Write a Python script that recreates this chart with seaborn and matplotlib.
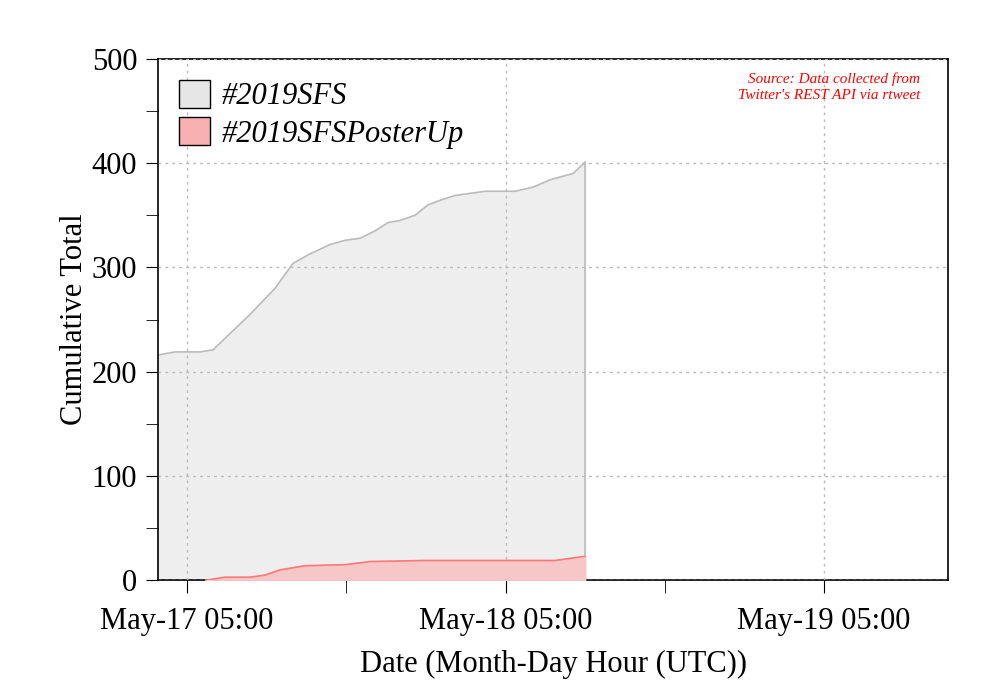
import numpy as np
import pandas as pd
import matplotlib.pyplot as plt
import seaborn as sns

# hours since May-17 05:00 UTC
sfs_hours = [-2.19, -0.9, 1.0, 1.96, 4.75, 6.63, 7.99, 9.27, 10.78, 11.91, 13.04, 14.17, 15.15, 16.05, 17.18, 18.16, 19.22, 20.2, 21.33, 22.46, 24.72, 26.08, 27.36, 28.49, 29.09, 30.0]
sfs_total = [216, 219, 219, 221, 255, 280, 304, 313, 322, 326, 328, 335, 343, 345, 350, 360, 365, 369, 371, 373, 373, 377, 384, 388, 390, 401]
poster_hours = [1.36, 2.86, 4.75, 5.88, 7.01, 8.9, 11.91, 13.79, 17.93, 20.2, 27.73, 28.86, 30.0]
poster_total = [0, 3, 3, 5, 10, 14, 15, 18, 19, 19, 19, 21, 23]

xtick_labels = ["May-17 05:00", "May-18 05:00", "May-19 05:00"]

sns.set_style("ticks")
plt.rcParams['font.family'] = ['Liberation Serif', 'DejaVu Serif']
plt.rcParams['text.color'] = 'black'
plt.rcParams['axes.labelcolor'] = 'black'
plt.rcParams['xtick.color'] = 'black'
plt.rcParams['ytick.color'] = 'black'

fig = plt.figure(figsize=(10, 7), dpi=100)
ax = fig.add_axes([0.158, 0.171, 0.79, 0.745])

sfs = pd.DataFrame({"h": sfs_hours, "n": sfs_total})
post = pd.DataFrame({"h": poster_hours, "n": poster_total})

ax.fill_between(sfs.h, sfs.n, color="#eeeeee", zorder=1)
sns.lineplot(data=sfs, x="h", y="n", ax=ax, color="#bbbbbb", lw=1.2, zorder=2)
ax.plot([sfs_hours[-1]] * 2, [0, sfs_total[-1]], color="#bbbbbb", lw=1.2, zorder=2)
ax.fill_between(post.h, post.n, color="#f7c6c6", zorder=3)
sns.lineplot(data=post, x="h", y="n", ax=ax, color="#ff7777", lw=1.2, zorder=4)

ax.set_xlim(-2.19, 57.34)
ax.set_ylim(0, 500)
ax.set_xticks([0, 24, 48])
ax.set_xticklabels(xtick_labels, fontsize=22)
ax.set_xticks([12, 36], minor=True)
ax.set_yticks(range(0, 501, 100))
ax.set_yticks(range(50, 500, 100), minor=True)
ax.tick_params(axis="y", labelsize=22)
ax.tick_params(which="major", length=9, direction="out", pad=6)
ax.tick_params(which="minor", length=9, direction="out")
ax.tick_params(axis="x", which="major", pad=10)
ax.grid(True, which="major", linestyle=(0, (2, 3)), color="#bbbbbb", lw=1)
ax.set_axisbelow(False)
for s in ax.spines.values():
    s.set_linewidth(1.2)
    s.set_color("black")

ax.set_xlabel("Date (Month-Day Hour (UTC))", fontsize=22, labelpad=10)
ax.set_ylabel("Cumulative Total", fontsize=22, labelpad=2)

h1 = plt.Rectangle((0, 0), 1, 1, fc="#e6e6e6", ec="black", lw=1)
h2 = plt.Rectangle((0, 0), 1, 1, fc="#f9b0b0", ec="black", lw=1)
leg = ax.legend([h1, h2], ["#2019SFS", "#2019SFSPosterUp"], loc="upper left",
                frameon=False, prop={"style": "italic", "size": 22},
                handlelength=1.0, handleheight=1.0, handletextpad=0.4,
                borderaxespad=0.3, labelspacing=0.2)

ax.text(0.965, 0.975, "Source: Data collected from\nTwitter's REST API via rtweet",
        transform=ax.transAxes, ha="right", va="top", color="red",
        fontsize=11, style="italic", linespacing=1.3)

fig.savefig("out.png", dpi=100)
